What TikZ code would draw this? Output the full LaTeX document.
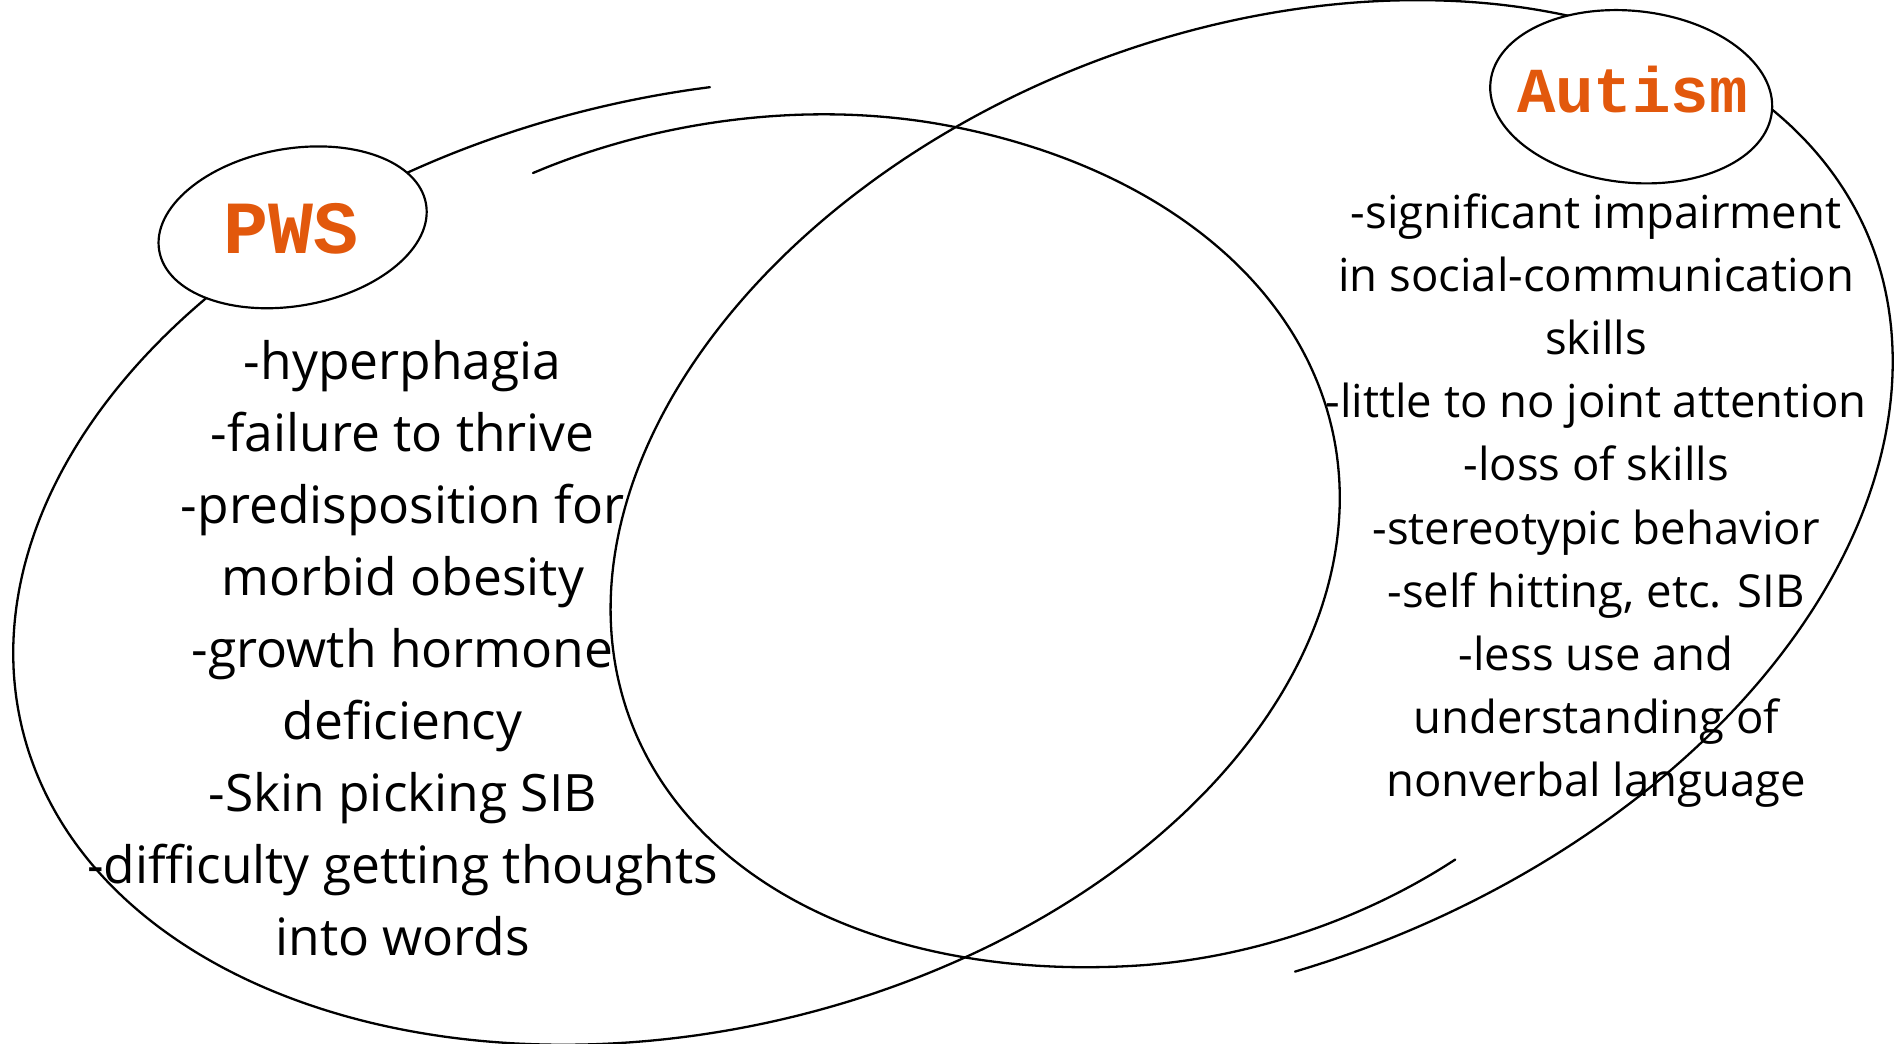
\documentclass[tikz,border=0pt]{standalone}
\usepackage{fontspec}
\setmainfont{Open Sans}
\newfontfamily\labelfont{Liberation Mono}
\usetikzlibrary{shapes.geometric}
\definecolor{lblorange}{HTML}{E2580C}
\tikzset{
  curve/.style={line width=1.9pt, black, line cap=round},
  bubble/.style={draw, line width=1.8pt, ellipse, fill=white, inner sep=0pt},
  tagtext/.style={text=lblorange, inner sep=0pt, anchor=base},
  listtext/.style={align=center, inner sep=0pt, text=black}
}
\begin{document}
\begin{tikzpicture}[x=1pt,y=-1pt,
  declare function={
    sq(\x)=\x*\x;
    sl(\t)=(-78.6-\t)/376;
    sr(\t)=(101-\t)/376;
    kl(\t)=1+0.06*sq(max(0,1-sl(\t)/0.3))-0.056*sq(max(0,1-(1-sl(\t))/0.1));
    kr(\t)=1+0.065*sq(max(0,1-sr(\t)/0.25))-0.055*sq(max(0,1-(1-sr(\t))/0.08));
  }]
\fill[white] (0,0) rectangle (1568,863);
\clip (0,0) rectangle (1568,863);
% left (PWS) sketchy ellipse, ends overlapping at the top
\draw[curve] plot[domain=-78.6:-454.6, samples=260, smooth, variable=\t]
  ({560+kl(\t)*(555.5*cos(\t)*cos(12.8)+375.2*sin(\t)*sin(12.8))},
   {478+kl(\t)*(-555.5*cos(\t)*sin(12.8)+375.2*sin(\t)*cos(12.8))});
% right (Autism) sketchy ellipse, ends overlapping at the bottom
\draw[curve] plot[domain=101:-275, samples=260, smooth, variable=\t]
  ({1035+kr(\t)*(549.7*cos(\t)*cos(21.1)+372.5*sin(\t)*sin(21.1))},
   {400+kr(\t)*(-549.7*cos(\t)*sin(21.1)+372.5*sin(\t)*cos(21.1))});
% label bubbles
\node[bubble, minimum width=224pt, minimum height=130pt, rotate=10] (pwsbubble) at (242,188) {};
\node[bubble, minimum width=234pt, minimum height=142pt, rotate=-6] (autbubble) at (1349,80) {};
\node[tagtext, font=\labelfont\bfseries\fontsize{62}{62}\selectfont] (pws) at (241,210) {PWS};
\node[tagtext, font=\labelfont\bfseries\fontsize{53}{53}\selectfont] (autism) at (1350,93) {Autism};
% lists
\node[listtext, font=\fontsize{42.6}{59.5}\selectfont] (pwslist) at (333,536) {-hyperphagia\\-failure to thrive\\-predisposition for\\morbid obesity\\-growth hormone\\deficiency\\-Skin picking SIB\\-difficulty getting thoughts\\into words};
\node[listtext, font=\fontsize{37.6}{52.2}\selectfont] (autlist) at (1320,414) {-significant impairment\\in social-communication\\skills\\-little to no joint attention\\-loss of skills\\-stereotypic behavior\\-self hitting, etc. SIB\\-less use and\\understanding of\\nonverbal language};
\end{tikzpicture}
\end{document}
